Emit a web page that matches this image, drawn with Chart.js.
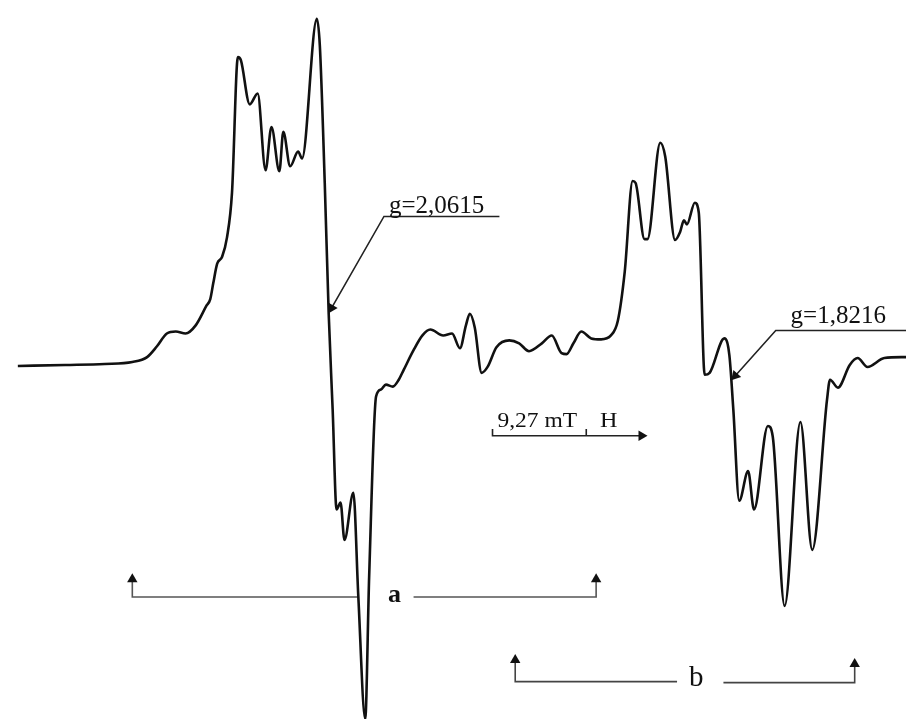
<!DOCTYPE html>
<html>
<head>
<meta charset="utf-8">
<title>EPR spectrum</title>
<script src="https://cdn.jsdelivr.net/npm/chart.js@4.4.1/dist/chart.umd.min.js"></script>
<style>
  html, body { margin: 0; padding: 0; background: #fff; }
  #wrap { width: 912px; height: 725px; position: relative; }
</style>
</head>
<body>
<div id="wrap"><canvas id="epr"></canvas></div>
<script>
/* ========= SPECTRUM (field in a.u., signal with baseline at 0) ========= */
const fieldX = [
  12, 60, 100, 128, 143, 153, 163, 172, 182, 192, 203, 207, 210, 214, 219, 224, 229, 235, 238,
  247, 255, 263, 269, 277, 281, 288, 296, 300, 315, 318, 323, 327, 331, 335, 339, 343, 352,
  357, 364, 368, 375, 380, 385, 392, 398, 403, 413, 422, 430, 443, 452, 460, 466, 470, 475,
  482, 488, 497, 510, 520, 530, 543, 553, 563, 568, 575, 583, 593, 603, 613, 620, 627, 635,
  638, 647, 650, 663, 668, 678, 683, 687, 690, 698, 702, 708, 713, 728, 733, 737, 743, 752,
  758, 772, 777, 789, 805, 817, 832, 835, 843, 855, 863, 873, 890, 912
];
const signalY = [
  0, 1, 2, 4, 9, 20, 33, 35, 33, 41, 61, 68, 84, 104, 111, 131, 176, 314, 311,
  266, 277, 199, 243, 198, 238, 203, 218, 211, 353, 326, 186, 53, -44, -146, -139, -177, -129,
  -234, -359, -214, -31, -24, -19, -21, -14, -4, 16, 31, 37, 31, 33, 18, 41, 53, 39,
  -7, -1, 19, 26, 23, 15, 23, 31, 13, 12, 23, 35, 28, 27, 31, 46, 96, 188,
  186, 129, 129, 227, 213, 128, 136, 148, 144, 166, 156, -9, -7, 28, 11, -44, -137, -107,
  -146, -61, -72, -244, -57, -187, -34, -14, -22, 1, 8, -1, 8, 9
];

/* ========= ANNOTATIONS (same units) ========= */
// integration ranges a and b (arrow end first)
const rangeALeftX = [128, 128, 357],  rangeALeftY = [-217, -235, -235];
const rangeARightX = [598, 598, 413], rangeARightY = [-217, -235, -235];
const rangeBLeftX = [516, 516, 680],  rangeBLeftY = [-299, -321, -321];
const rangeBRightX = [860, 860, 727], rangeBRightY = [-303, -322, -322];
// g-value leaders (arrow tip first)
const leaderG1X = [330, 383, 500], leaderG1Y = [59, 152, 152];
const leaderG2X = [739, 780, 912], leaderG2Y = [-10, 36, 36];
// field scale bar and direction of H (arrow tip last)
const scaleBarX = [493, 493, 644], scaleBarY = [-64, -71, -71];
const scaleTickX = [588, 588],     scaleTickY = [-64, -71];

// text labels
const labelText = ["g=2,0615", "g=1,8216", "9,27 mT", "H", "a", "b"];
const labelX = [388, 795, 498, 602, 387, 692];
const labelY = [156, 44, -62, -62, -240, -325];

/* ========= HELPERS ========= */
function pts(xs, ys) {
  return xs.map((x, i) => ({ x: x, y: ys[i] }));
}

// rotate the triangle along the line it ends
function arrowRotation(ctx) {
  const d = ctx.dataset.data, i = ctx.dataIndex;
  if (!d[i]) return 0;
  const j = i === 0 ? 1 : i - 1;
  const dx = d[i].x - d[j].x;
  const dy = d[i].y - d[j].y; // y axis up, x and y same px per unit
  return Math.atan2(dx, dy) * 180 / Math.PI;
}

function annot(xs, ys, color, width, arrowAt) {
  return {
    data: pts(xs, ys),
    showLine: true,
    borderColor: color,
    backgroundColor: "#111",
    borderWidth: width,
    tension: 0,
    pointStyle: "triangle",
    pointRadius: xs.map((_, i) => (i === arrowAt ? 6 : 0)),
    pointBorderWidth: 0,
    pointRotation: arrowRotation
  };
}

const SERIF = "'Times New Roman', 'Liberation Serif', Times, serif";
const labelFonts = [
  "25px " + SERIF, "25px " + SERIF, "21px " + SERIF,
  "21px " + SERIF, "bold 26px " + SERIF, "29px " + SERIF
];
const labelStretch = [1.0, 1.0, 1.12, 1.15, 1.0, 1.0];

const labelPlugin = {
  id: "textLabels",
  afterDatasetsDraw(chart) {
    const { ctx, scales: { x, y } } = chart;
    ctx.save();
    ctx.fillStyle = "#111";
    ctx.textBaseline = "alphabetic";
    ctx.textAlign = "left";
    labelText.forEach((t, i) => {
      ctx.save();
      ctx.translate(x.getPixelForValue(labelX[i]), y.getPixelForValue(labelY[i]));
      ctx.scale(labelStretch[i], 1);
      ctx.font = labelFonts[i];
      ctx.fillText(t, 0, 0);
      ctx.restore();
    });
    ctx.restore();
  }
};

/* ========= CHART ========= */
new Chart(document.getElementById("epr"), {
  type: "scatter",
  data: {
    datasets: [
      {
        data: pts(fieldX, signalY),
        showLine: true,
        borderColor: "#111",
        borderWidth: 2.6,
        pointRadius: 0,
        cubicInterpolationMode: "monotone"
      },
      annot(rangeALeftX, rangeALeftY, "#555", 1.6, 0),
      annot(rangeARightX, rangeARightY, "#555", 1.6, 0),
      annot(rangeBLeftX, rangeBLeftY, "#444", 1.6, 0),
      annot(rangeBRightX, rangeBRightY, "#444", 1.6, 0),
      annot(leaderG1X, leaderG1Y, "#222", 1.6, 0),
      annot(leaderG2X, leaderG2Y, "#222", 1.6, 0),
      annot(scaleBarX, scaleBarY, "#222", 1.6, 2),
      annot(scaleTickX, scaleTickY, "#222", 1.6, -1)
    ]
  },
  options: {
    responsive: true,
    maintainAspectRatio: false,
    animation: false,
    layout: { padding: 0 },
    plugins: { legend: { display: false }, tooltip: { enabled: false } },
    scales: {
      x: { type: "linear", min: 0, max: 912, display: false },
      y: { type: "linear", min: -359, max: 366, display: false }
    }
  },
  plugins: [labelPlugin]
});
</script>
</body>
</html>
